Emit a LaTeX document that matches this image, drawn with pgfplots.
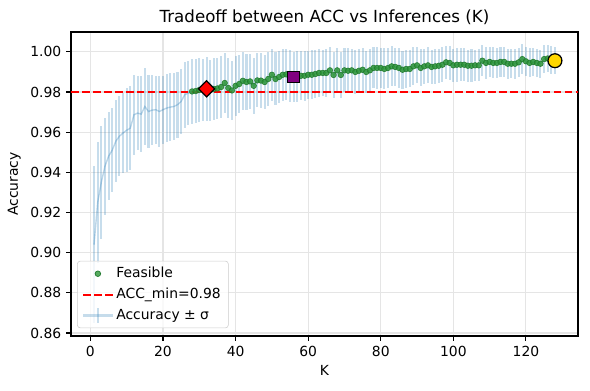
\documentclass[border=0pt]{standalone}
\usepackage{fontspec}
\setmainfont{DejaVu Sans}
\usepackage{pgfplots}
\usepackage{pgfplotstable}
\pgfplotsset{compat=1.18}

\definecolor{tabblue}{RGB}{31,119,180}
\definecolor{feasgreen}{RGB}{45,150,55}
\definecolor{feasedge}{RGB}{30,120,45}
\definecolor{gold}{RGB}{255,215,0}
\definecolor{mplpurple}{RGB}{128,0,128}

% K, mean accuracy, std
\pgfplotstableread{
K acc sd
1 0.9040 0.0390
2 0.9250 0.0300
3 0.9350 0.0280
4 0.9430 0.0240
5 0.9480 0.0220
6 0.9510 0.0210
7 0.9555 0.0205
8 0.9580 0.0200
9 0.9596 0.0200
10 0.9610 0.0210
11 0.9620 0.0210
12 0.9687 0.0200
13 0.9695 0.0185
14 0.9690 0.0190
15 0.9728 0.0190
16 0.9703 0.0180
17 0.9710 0.0175
18 0.9712 0.0170
19 0.9703 0.0175
20 0.9712 0.0170
21 0.9720 0.0168
22 0.9725 0.0170
23 0.9728 0.0165
24 0.9737 0.0165
25 0.9753 0.0162
26 0.9787 0.0165
27 0.9795 0.0160
28 0.9803 0.0162
29 0.9805 0.0158
30 0.9810 0.0160
31 0.9812 0.0155
32 0.9816 0.0158
33 0.9810 0.0152
34 0.9815 0.0155
35 0.9818 0.0150
36 0.9825 0.0152
37 0.9845 0.0148
38 0.9820 0.0150
39 0.9808 0.0145
40 0.9831 0.0150
41 0.9840 0.0143
42 0.9856 0.0145
43 0.9850 0.0140
44 0.9853 0.0138
45 0.9831 0.0140
46 0.9858 0.0135
47 0.9857 0.0137
48 0.9850 0.0133
49 0.9865 0.0135
50 0.9886 0.0130
51 0.9865 0.0132
52 0.9875 0.0128
53 0.9886 0.0130
54 0.9888 0.0126
55 0.9880 0.0128
56 0.9875 0.0125
57 0.9878 0.0127
58 0.9881 0.0122
59 0.9881 0.0124
60 0.9886 0.0120
61 0.9886 0.0122
62 0.9890 0.0118
63 0.9895 0.0120
64 0.9895 0.0116
65 0.9895 0.0118
66 0.9908 0.0114
67 0.9885 0.0116
68 0.9908 0.0112
69 0.9885 0.0114
70 0.9908 0.0110
71 0.9906 0.0112
72 0.9908 0.0108
73 0.9900 0.0110
74 0.9906 0.0106
75 0.9911 0.0108
76 0.9900 0.0104
77 0.9908 0.0106
78 0.9920 0.0102
79 0.9920 0.0104
80 0.9920 0.0100
81 0.9915 0.0102
82 0.9920 0.0098
83 0.9928 0.0100
84 0.9925 0.0096
85 0.9920 0.0098
86 0.9911 0.0094
87 0.9915 0.0096
88 0.9915 0.0092
89 0.9928 0.0094
90 0.9933 0.0090
91 0.9920 0.0092
92 0.9928 0.0088
93 0.9933 0.0090
94 0.9925 0.0086
95 0.9928 0.0088
96 0.9931 0.0085
97 0.9936 0.0086
98 0.9948 0.0083
99 0.9945 0.0085
100 0.9933 0.0082
101 0.9936 0.0084
102 0.9936 0.0081
103 0.9936 0.0082
104 0.9931 0.0079
105 0.9931 0.0081
106 0.9933 0.0078
107 0.9933 0.0080
108 0.9956 0.0077
109 0.9945 0.0078
110 0.9950 0.0076
111 0.9945 0.0077
112 0.9945 0.0075
113 0.9950 0.0076
114 0.9950 0.0074
115 0.9941 0.0075
116 0.9941 0.0073
117 0.9941 0.0074
118 0.9948 0.0072
119 0.9964 0.0073
120 0.9953 0.0071
121 0.9945 0.0072
122 0.9950 0.0070
123 0.9945 0.0071
124 0.9941 0.0069
125 0.9964 0.0070
126 0.9967 0.0068
127 0.9960 0.0069
128 0.9956 0.0068
}\accdata

\newcommand{\figfont}{\fontsize{10}{12}\selectfont}

\begin{document}
\begin{tikzpicture}
\path[use as bounding box] (-51.12pt,-38.88pt) rectangle (373.68pt,241.92pt);
\begin{axis}[
  at={(0,0)}, anchor=south west,
  width=365.04pt, height=218.88pt, scale only axis,
  xmin=-5.35, xmax=134.35, ymin=0.8585, ymax=1.0099,
  xtick={0,20,40,60,80,100,120},
  ytick={0.86,0.88,0.90,0.92,0.94,0.96,0.98,1.00},
  yticklabel style={/pgf/number format/.cd, fixed, fixed zerofill, precision=2},
  /pgf/number format/assume math mode=true,
  tick label style={font=\figfont}, label style={font=\figfont},
  title style={font=\fontsize{12}{14}\selectfont, yshift=-4pt},
  title={Tradeoff between ACC vs Inferences (K)},
  xlabel={K}, ylabel={Accuracy},
  axis line style={line width=0.8pt}, every tick/.style={black, line width=0.8pt},
  tick align=outside, major tick length=3.5pt, xtick pos=bottom, ytick pos=left,
  grid=major, grid style={black!10, line width=0.8pt},
  legend style={at={(0.012,0.026)}, anchor=south west, draw=black!20, fill=white,
    fill opacity=0.8, text opacity=1, rounded corners=2pt, font=\figfont,
    row sep=2pt, inner xsep=3.5pt, inner ysep=2.5pt},
  legend cell align=left,
]
\addplot[tabblue, draw opacity=0.3, line width=1pt, forget plot,
  error bars/.cd, y dir=both, y explicit, error mark=none,
  error bar style={line width=1.5pt, tabblue, draw opacity=0.25}]
  table[x=K, y=acc, y error=sd] {\accdata};
\addplot[red, line width=1.5pt, dash pattern=on 5.5pt off 2.4pt, forget plot]
  coordinates {(-5.35,0.98) (134.35,0.98)};
\addplot[only marks, mark=*, mark size=2pt, forget plot, restrict y to domain=0.98:1.1,
  mark options={fill=feasgreen, draw=feasedge, opacity=0.85, line width=0.5pt}]
  table[x=K, y=acc] {\accdata};
\addplot[only marks, mark=square*, mark size=4.1pt, forget plot,
  mark options={rotate=45, fill=red, draw=black, line width=0.9pt}]
  coordinates {(32,0.9816)};
\addplot[only marks, mark=square*, mark size=4.2pt, forget plot,
  mark options={fill=mplpurple, draw=black, line width=0.9pt}]
  coordinates {(56,0.9875)};
\addplot[only marks, mark=*, mark size=5pt, forget plot,
  mark options={fill=gold, draw=black, line width=0.9pt}]
  coordinates {(128,0.9956)};
\addlegendimage{legend image code/.code={\fill[feasgreen, draw=feasedge, line width=0.5pt] (0.37cm,0cm) circle (2pt);}}
\addlegendentry{Feasible}
\addlegendimage{legend image code/.code={\draw[red, line width=1.5pt, dash pattern=on 5.5pt off 2.4pt] (0cm,0cm) -- (0.74cm,0cm);}}
\addlegendentry{ACC\_min=0.98}
\addlegendimage{legend image code/.code={\draw[tabblue, draw opacity=0.25, line width=1.5pt] (0cm,0cm) -- (0.74cm,0cm); \draw[tabblue, draw opacity=0.25, line width=1.5pt] (0.37cm,-0.18cm) -- (0.37cm,0.18cm);}}
\addlegendentry{Accuracy ± σ}
\end{axis}
\end{tikzpicture}
\end{document}
